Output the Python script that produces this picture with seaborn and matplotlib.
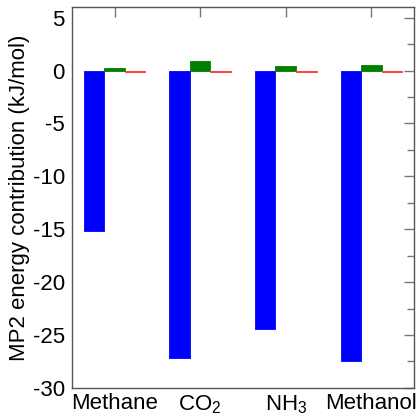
import numpy as np
import pandas as pd
import matplotlib
matplotlib.use("Agg")
import matplotlib.pyplot as plt
from matplotlib.ticker import MultipleLocator
import seaborn as sns

# dane
molecules = ["Methane", "CO$_2$", "NH$_3$", "Methanol"]
series = ["A", "B", "C"]
values_a = [-15.2, -27.2, -24.4, -27.5]
values_b = [0.25, 0.95, 0.40, 0.50]
values_c = [-0.12, -0.12, -0.12, -0.12]
colors = ["#0000ff", "#008000", "#ff3333"]

df = pd.DataFrame({
    "Molecule": molecules * 3,
    "Series": np.repeat(series, len(molecules)),
    "Energy": values_a + values_b + values_c,
})

sns.set_style("white")
plt.rcParams["font.family"] = ["Liberation Sans", "DejaVu Sans"]
plt.rcParams["mathtext.fontset"] = "custom"
plt.rcParams["mathtext.rm"] = "Liberation Sans"
plt.rcParams["mathtext.it"] = "Liberation Sans"
plt.rcParams["mathtext.default"] = "regular"
plt.rcParams["axes.unicode_minus"] = False
plt.rcParams["text.color"] = "black"
plt.rcParams["axes.labelcolor"] = "black"

fig = plt.figure(figsize=(4.2, 4.18), dpi=100)
ax = fig.add_axes([0.171, 0.072, 0.815, 0.911])

sns.barplot(
    data=df, x="Molecule", y="Energy", hue="Series",
    hue_order=series, palette=colors, width=0.72, gap=0,
    saturation=1, legend=False, ax=ax, linewidth=0.6,
)
for bar, c in zip(ax.patches, np.repeat(colors, len(molecules))):
    bar.set_edgecolor(c)

ax.set_xlim(-0.5, 3.5)
ax.set_ylim(-30, 6)
ax.yaxis.set_major_locator(MultipleLocator(5))
ax.yaxis.set_minor_locator(MultipleLocator(2.5))
ax.tick_params(which="both", direction="in", top=True, right=True,
               color="#777777", labelcolor="black", labelsize=16, pad=5)
ax.tick_params(which="major", length=7, width=1)
ax.tick_params(which="minor", length=5, width=1)
ax.tick_params(axis="x", pad=4)
for s in ax.spines.values():
    s.set_color("#555555")
    s.set_linewidth(1.0)

ax.set_xlabel("")
ax.set_ylabel("MP2 energy contribution (kJ/mol)", fontsize=16, labelpad=2)

fig.savefig("out.png", dpi=100)
